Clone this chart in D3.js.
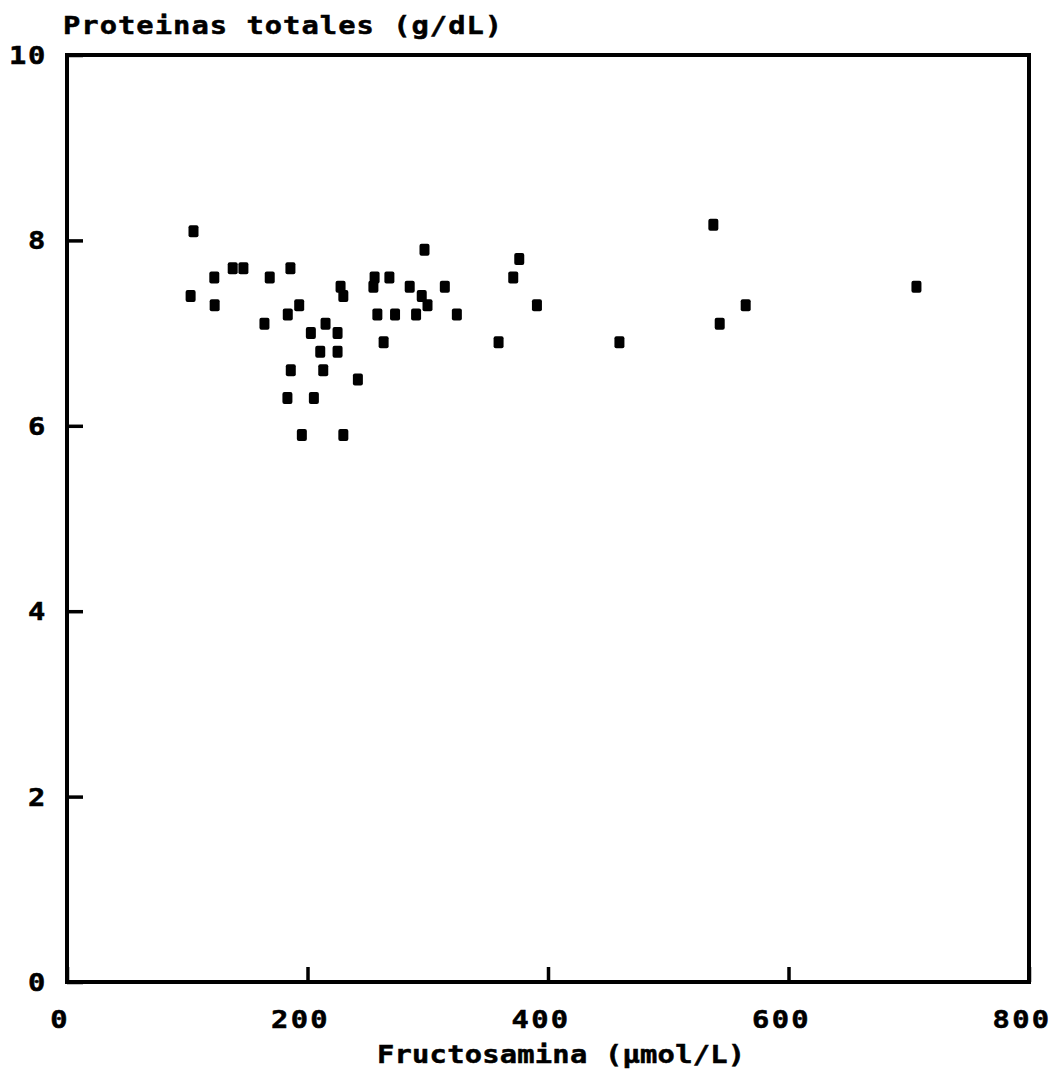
<!DOCTYPE html>
<html>
<head>
<meta charset="utf-8">
<script src="https://cdn.jsdelivr.net/npm/d3@7"></script>
<style>
  html, body { margin: 0; padding: 0; background: #fff; }
  svg { display: block; }
  text { font-family: "DejaVu Sans Mono", monospace; font-weight: bold; fill: #000; stroke: #000; stroke-width: 0.5px; }
</style>
</head>
<body>
<svg id="chart" width="1063" height="1074"></svg>
<script>
// Data
const fructosamina = [102.8, 105.2, 122.5, 122.8, 137.8, 146.7, 164.2, 168.6, 183.6, 185.8,
  186.1, 183.3, 193.1, 195.3, 202.8, 205.3, 210.6, 213.1, 215, 225,
  225, 227.5, 229.8, 229.8, 241.9, 255.8, 254.8, 258.1, 263.3, 268.1,
  272.8, 285, 290.3, 295, 297.3, 299.8, 314.2, 324.2, 358.9, 371.1,
  376.1, 390.8, 459.4, 537.5, 542.8, 564.4, 706.4];
const proteinas = [7.4, 8.1, 7.6, 7.3, 7.7, 7.7, 7.1, 7.6, 7.2, 7.7,
  6.6, 6.3, 7.3, 5.9, 7.0, 6.3, 6.8, 6.6, 7.1, 7.0,
  6.8, 7.5, 7.4, 5.9, 6.5, 7.6, 7.5, 7.2, 6.9, 7.6,
  7.2, 7.5, 7.2, 7.4, 7.9, 7.3, 7.5, 7.2, 6.9, 7.6,
  7.8, 7.3, 6.9, 8.17, 7.1, 7.3, 7.5];
const xTicks = [0, 200, 400, 600, 800];
const yTicks = [0, 2, 4, 6, 8, 10];
const xTitle = "Fructosamina (µmol/L)";
const yTitle = "Proteinas totales (g/dL)";

const svg = d3.select("#chart");
const mLeft = 67, mRight = 1029, mTop = 55, mBottom = 982;
const sx = 1.15;

const x = d3.scaleLinear().domain([0, 800]).range([mLeft, mRight]);
const y = d3.scaleLinear().domain([0, 10]).range([mBottom, mTop]);

// Frame
svg.append("rect")
  .attr("x", mLeft).attr("y", mTop)
  .attr("width", mRight - mLeft).attr("height", mBottom - mTop)
  .attr("fill", "none").attr("stroke", "#000").attr("stroke-width", 4);

// Bottom axis: inward ticks
const xAxis = d3.axisBottom(x).tickValues(xTicks).tickSizeInner(-15).tickSizeOuter(0).tickFormat("");
const gx = svg.append("g").attr("transform", `translate(0,${mBottom})`).call(xAxis);
gx.select(".domain").remove();
gx.selectAll(".tick line").attr("stroke", "#000").attr("stroke-width", 3.5);

// Left axis: inward ticks
const yAxis = d3.axisLeft(y).tickValues(yTicks).tickSizeInner(-16).tickSizeOuter(0).tickFormat("");
const gy = svg.append("g").attr("transform", `translate(${mLeft},0)`).call(yAxis);
gy.select(".domain").remove();
gy.selectAll(".tick line").attr("stroke", "#000").attr("stroke-width", 3.5);

// Tick labels
svg.append("g").selectAll("text").data(xTicks).join("text")
  .attr("transform", d => `translate(${x(d) - 7},1028) scale(${sx},1)`)
  .attr("text-anchor", "middle")
  .style("font-size", "25px")
  .style("letter-spacing", "2px")
  .text(d => d);

svg.append("g").selectAll("text").data(yTicks).join("text")
  .attr("transform", d => `translate(47,${y(d)}) scale(${sx},1)`)
  .attr("dy", "0.36em")
  .attr("text-anchor", "end")
  .style("font-size", "25px")
  .style("letter-spacing", "1.5px")
  .text(d => d);

// Titles
svg.append("text")
  .attr("transform", `translate(63,34) scale(${sx},1)`)
  .style("font-size", "25px")
  .style("letter-spacing", "0.9px")
  .text(yTitle);

svg.append("text")
  .attr("transform", `translate(377,1063) scale(${sx},1)`)
  .style("font-size", "25px")
  .style("letter-spacing", "0.2px")
  .text(xTitle);

// Points
const pts = fructosamina.map((v, i) => ({fx: v, pt: proteinas[i]}));
svg.append("g").selectAll("rect").data(pts).join("rect")
  .attr("x", d => x(d.fx) - 5)
  .attr("y", d => y(d.pt) - 6)
  .attr("width", 10).attr("height", 12)
  .attr("rx", 2)
  .attr("fill", "#000");
</script>
</body>
</html>
